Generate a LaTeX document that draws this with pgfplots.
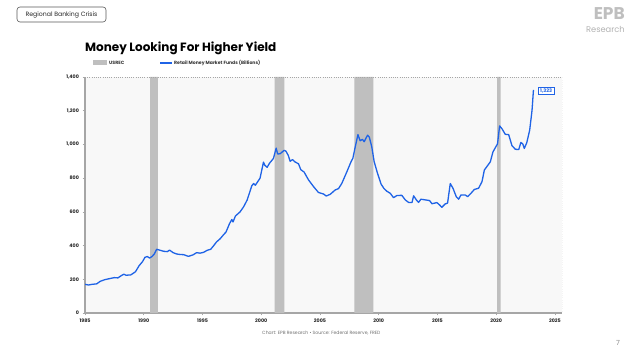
\documentclass[border=0pt]{standalone}
\usepackage{fontspec}
\setmainfont{Poppins}
\usepackage{pgfplots}
\pgfplotsset{compat=1.18}
\definecolor{usrec}{HTML}{BFBFBF}
\definecolor{mmf}{HTML}{1F63E6}
\definecolor{bgc}{HTML}{F8F8F8}
\definecolor{axisgray}{HTML}{A6A6A6}
\definecolor{txtgray}{HTML}{707070}
\begin{document}
\begin{tikzpicture}[x=1pt,y=1pt]
\useasboundingbox (0,0) rectangle (640,355);
% header box
\draw[rounded corners=3pt, draw=black!65, line width=0.6pt] (17,333) rectangle (106,348);
\node[font=\fontsize{6.2}{7}\selectfont, text=black!85] at (61.5,340.5) {Regional Banking Crisis};
% logo
\node[font=\bfseries\fontsize{17}{17}\selectfont, text=black!25, anchor=north east, inner sep=0pt] at (625,348) {EPB};
\node[font=\fontsize{8.3}{9}\selectfont, text=black!30, anchor=north east, inner sep=0pt] at (625,329) {Research};
% title
\node[font=\bfseries\fontsize{12}{13}\selectfont, anchor=base west, inner sep=0pt] at (85,303) {Money Looking For Higher Yield};
% legend
\fill[usrec] (93,289.5) rectangle (107,294.5);
\node[font=\bfseries\fontsize{4.6}{5}\selectfont, anchor=west, inner sep=0pt, text=black!80] at (109,292) {USREC};
\draw[mmf, line width=1.1pt] (160,292) -- (172,292);
\node[font=\bfseries\fontsize{4.6}{5}\selectfont, anchor=west, inner sep=0pt, text=black!80] at (174,292) {Retail Money Market Funds (Billions)};
% source
\node[font=\fontsize{4.6}{5}\selectfont, anchor=west, inner sep=0pt, text=txtgray] at (262,22) {Chart: EPB Research \textbullet\ Source: Federal Reserve, FRED};
\node[font=\fontsize{7}{8}\selectfont, text=black!45, inner sep=0pt] at (618,12) {7};
\begin{axis}[
  at={(85pt,42pt)}, anchor=south west, scale only axis,
  width=477pt, height=236pt,
  xmin=1985, xmax=2025.6, ymin=0, ymax=1400,
  axis background/.style={fill=bgc},
  axis x line*=bottom, axis y line*=left,
  axis line style={draw=axisgray, line width=1.3pt},
  xtick={1985,1990,...,2025}, ytick={0,200,...,1400},
  tick align=outside, major tick length=2.5pt,
  tick style={draw=axisgray, line width=0.6pt},
  /pgf/number format/assume math mode=true,
  xticklabel style={/pgf/number format/1000 sep={}},
  yticklabel style={/pgf/number format/1000 sep={,}},
  ticklabel style={font=\bfseries\fontsize{4.8}{5}\selectfont, text=black!85},
]
\addplot[fill=usrec, draw=none] coordinates {(1990.55,0) (1990.55,1400) (1991.2,1400) (1991.2,0)} \closedcycle;
\addplot[fill=usrec, draw=none] coordinates {(2001.15,0) (2001.15,1400) (2001.97,1400) (2001.97,0)} \closedcycle;
\addplot[fill=usrec, draw=none] coordinates {(2007.92,0) (2007.92,1400) (2009.55,1400) (2009.55,0)} \closedcycle;
\addplot[fill=usrec, draw=none] coordinates {(2020.08,0) (2020.08,1400) (2020.38,1400) (2020.38,0)} \closedcycle;
\addplot[mmf, line width=1.3pt, line join=round] table {
1985.0 170
1985.3 166
1985.6 170
1986.0 173
1986.3 188
1986.7 198
1987.1 204
1987.5 210
1987.8 208
1988.1 222
1988.3 230
1988.5 224
1988.9 226
1989.3 245
1989.6 280
1989.9 305
1990.1 330
1990.3 335
1990.5 326
1990.7 335
1990.9 350
1991.1 378
1991.4 372
1991.7 366
1992.0 364
1992.2 373
1992.5 358
1992.8 350
1993.1 347
1993.4 346
1993.8 336
1994.2 345
1994.5 358
1994.8 355
1995.1 360
1995.4 372
1995.7 378
1995.9 395
1996.2 422
1996.5 440
1996.8 465
1997.0 480
1997.3 530
1997.5 555
1997.6 540
1997.8 575
1998.2 600
1998.5 630
1998.8 670
1999.2 755
1999.35 768
1999.5 758
1999.9 800
2000.19 895
2000.3 877
2000.5 864
2000.7 888
2001.04 917
2001.27 978
2001.4 943
2001.61 945
2001.95 965
2002.1 960
2002.3 935
2002.46 900
2002.66 910
2002.88 896
2003.17 885
2003.37 850
2003.65 836
2004.02 790
2004.45 750
2004.87 715
2005.3 706
2005.53 694
2005.87 704
2006.3 730
2006.58 738
2006.86 769
2007.29 838
2007.63 895
2007.8 918
2008.0 985
2008.23 1058
2008.42 1022
2008.62 1030
2008.76 1016
2009.05 1055
2009.2 1043
2009.41 985
2009.61 898
2009.9 828
2010.2 765
2010.45 738
2010.7 722
2010.98 710
2011.26 684
2011.55 697
2011.97 698
2012.26 671
2012.54 656
2012.83 655
2012.97 695
2013.2 671
2013.39 656
2013.59 675
2013.96 671
2014.33 667
2014.53 648
2014.95 655
2015.18 641
2015.37 627
2015.66 647
2015.86 652
2016.09 768
2016.32 740
2016.6 690
2016.8 675
2017.0 700
2017.37 700
2017.57 690
2017.85 710
2018.14 733
2018.5 740
2018.79 779
2018.99 848
2019.2 868
2019.5 897
2019.72 955
2020.0 990
2020.11 1003
2020.29 1110
2020.49 1093
2020.77 1060
2021.06 1058
2021.34 993
2021.63 971
2021.92 970
2022.1 1012
2022.27 1002
2022.39 976
2022.6 1010
2022.85 1085
2023.05 1203
2023.17 1323
};
\draw[black!35, dash pattern=on 1pt off 1.2pt, line width=0.7pt] (rel axis cs:0,1) -- (rel axis cs:1,1) -- (rel axis cs:1,0);
\node[draw=mmf, fill=white, line width=0.6pt, text=mmf, font=\bfseries\fontsize{4.9}{5}\selectfont, inner xsep=2pt, inner ysep=1.8pt] at (axis cs:2024.25,1318) {1,323};
\end{axis}
\end{tikzpicture}
\end{document}
